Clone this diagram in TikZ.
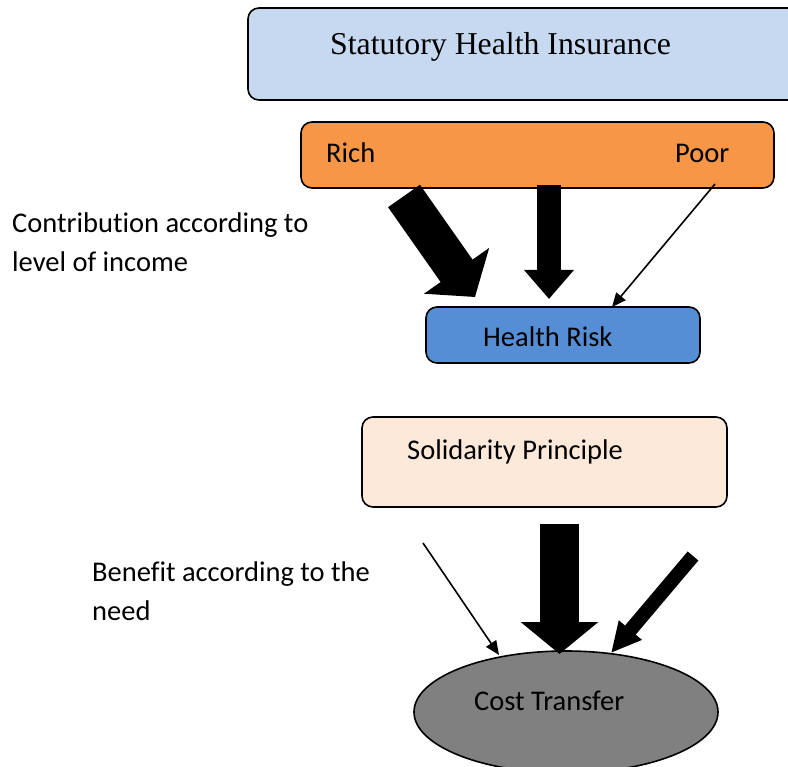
\documentclass[tikz,border=0pt]{standalone}
\usepackage{fontspec}
\setmainfont{Carlito}[Ligatures=NoCommon]
\newfontfamily\titlefont{Liberation Serif}
\usetikzlibrary{arrows.meta,shapes.geometric,positioning}
\definecolor{shiblue}{HTML}{C6D9F1}
\definecolor{richorange}{HTML}{F79646}
\definecolor{riskblue}{HTML}{558ED5}
\definecolor{solpeach}{HTML}{FDE9D9}
\definecolor{costgray}{HTML}{808080}
\tikzset{
  box/.style={draw, line width=1.6pt, rounded corners=11pt, inner sep=0pt},
  lbl/.style={anchor=base west, inner sep=0pt, align=left, font=\fontsize{28.5}{39}\selectfont},
  thinarrow/.style={line width=1.6pt, -{Triangle[length=14pt,width=12pt]}},
  blockarrow/.style n args={3}{line width=#1pt, -{Triangle[length=#2pt,width=#3pt]}}
}
\begin{document}
\begin{tikzpicture}[x=1pt,y=-1pt]
\useasboundingbox (0,0) rectangle (788,767);
% boxes
\node[box, fill=shiblue, minimum width=552pt, minimum height=92pt] (shi) at (524,54) {};
\node[lbl, font=\titlefont\fontsize{31.8}{38}\selectfont] (shitext) at (330,55) {Statutory Health Insurance};
\node[box, fill=richorange, minimum width=473pt, minimum height=66pt] (income) at (537.5,155) {};
\node[lbl] (rich) at (326,163) {Rich};
\node[lbl] (poor) at (675,163) {Poor};
\node[box, fill=riskblue, minimum width=274pt, minimum height=56pt] (risk) at (563,335) {};
\node[lbl] (risktext) at (483,347) {Health Risk};
\node[box, fill=solpeach, minimum width=365pt, minimum height=90pt] (sol) at (544.5,462) {};
\node[lbl] (soltext) at (407,460) {Solidarity Principle};
\node[draw, line width=1.6pt, ellipse, fill=costgray, inner sep=0pt, minimum width=304pt, minimum height=122pt] (cost) at (566,712) {};
\node[lbl] (costtext) at (474,710) {Cost Transfer};
% side labels (base = last line)
\node[lbl] (contrib) at (12,272) {Contribution according to\\level of income};
\node[lbl] (benefit) at (92,620) {Benefit according to the\\need};
% arrow ends
\coordinate (a0) at (404,196);
\coordinate (a1) at (475,297);
\coordinate (b0) at (549,185);
\coordinate (b1) at (549,299);
\coordinate (c0) at (715,184);
\coordinate (c1) at (612,307);
\coordinate (d0) at (423,543);
\coordinate (d1) at (499,655);
\coordinate (e0) at (559.5,524);
\coordinate (e1) at (559.5,654);
\coordinate (f0) at (693,556);
\coordinate (f1) at (611,653);
% contribution arrows
\draw[blockarrow={39}{32}{78}] (a0) -- (a1);
\draw[blockarrow={24}{29}{48}] (b0) -- (b1);
\draw[thinarrow] (c0) -- (c1);
% benefit arrows
\draw[thinarrow] (d0) -- (d1);
\draw[blockarrow={39}{32}{76}] (e0) -- (e1);
\draw[blockarrow={14}{30}{28}] (f0) -- (f1);
\end{tikzpicture}
\end{document}
